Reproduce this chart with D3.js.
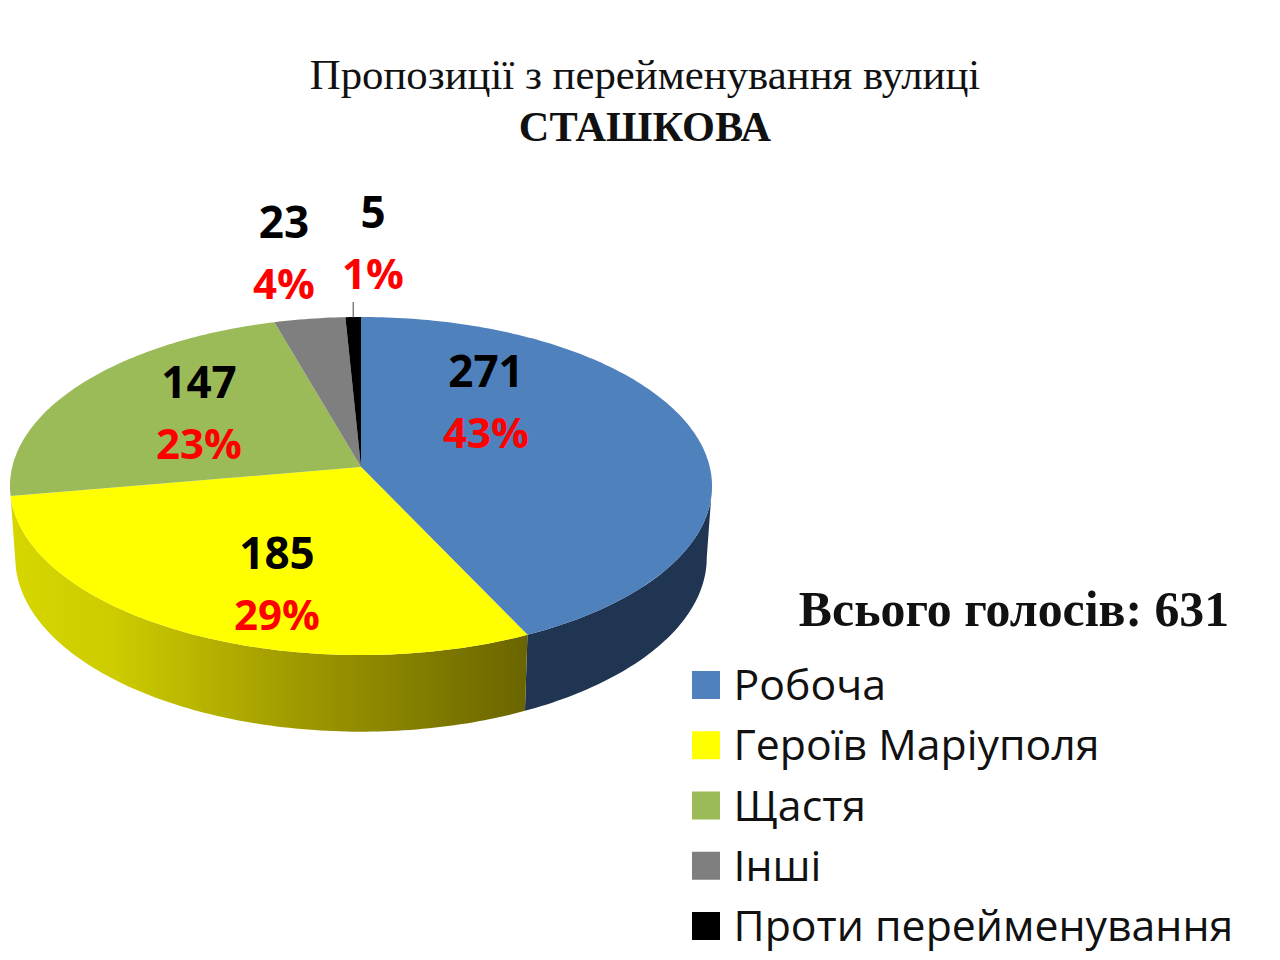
<!DOCTYPE html>
<html>
<head>
<meta charset="utf-8">
<title>Сташкова</title>
<script src="https://cdn.jsdelivr.net/npm/d3@7"></script>
<style>
  html, body { margin: 0; padding: 0; background: #fff; }
  svg { display: block; }
</style>
</head>
<body>
<svg id="chart" width="1280" height="960"></svg>
<script>
const categories = ["Робоча", "Героїв Маріуполя", "Щастя", "Інші", "Проти перейменування"]
const votes = [271, 185, 147, 23, 5]
const colors = ["#4f81bd", "#ffff00", "#9bbb59", "#7f7f7f", "#000000"]
const totalLabel = "Всього голосів: 631"

// where each value/percent pair sits (centre x, value baseline)
const labelAnchors = [[486, 387], [277, 569], [199, 398], [284, 238], [373, 228]]

const width = 1280
const height = 960
const svg = d3.select("#chart")

// perspective projection of the flat pie onto the page, v grows towards the viewer
const persp = 0.1124
function topFace(a) {
  const u = Math.sin(a), v = -Math.cos(a), w = 1 - persp * v
  return [361 + 348.8 * u / w, 467 + 166.9 * v / w]
}
function bottomFace(a) {
  const u = Math.sin(a), v = -Math.cos(a), w = 1 - persp * v
  return [361 + 0.985 * 348.8 * u / w, 538 + 1.03 * 166.9 * v / w]
}
function arcPoints(face, a0, a1) {
  const n = Math.max(2, Math.ceil(Math.abs(a1 - a0) * 60))
  return d3.range(n + 1).map(i => face(a0 + (a1 - a0) * i / n))
}

const pie = d3.pie().sort(null)
const slices = pie(votes)
const line = d3.line()
const total = d3.sum(votes)

const defs = svg.append("defs")
const yellowGrad = defs.append("linearGradient")
    .attr("id", "yellow-side")
    .attr("gradientUnits", "userSpaceOnUse")
    .attr("x1", 12).attr("x2", 525).attr("y1", 0).attr("y2", 0)
yellowGrad.selectAll("stop")
  .data([[0, "#d6d600"], [0.2, "#cccc00"], [0.55, "#a09a00"], [1, "#6b6500"]])
  .join("stop")
    .attr("offset", d => d[0])
    .attr("stop-color", d => d[1])

// side walls, only the front part of the rim can be seen
const rightEdge = Math.acos(-persp)
const leftEdge = 2 * Math.PI - rightEdge
const sideFill = ["#1f3552", "url(#yellow-side)"]
svg.append("g")
  .selectAll("path")
  .data(slices.slice(0, 2))
  .join("path")
    .attr("fill", (d, i) => sideFill[i])
    .attr("d", d => {
      const a0 = Math.max(d.startAngle, rightEdge)
      const a1 = Math.min(d.endAngle, leftEdge)
      return line(arcPoints(topFace, a0, a1).concat(arcPoints(bottomFace, a1, a0))) + "Z"
    })

// top face
svg.append("g")
  .selectAll("path")
  .data(slices)
  .join("path")
    .attr("fill", (d, i) => colors[i])
    .attr("d", d => line([[361, 467]].concat(arcPoints(topFace, d.startAngle, d.endAngle))) + "Z")

// leader line of the smallest slice
const last = slices[slices.length - 1]
const leaderTop = topFace((last.startAngle + last.endAngle) / 2)
svg.append("line")
    .attr("x1", leaderTop[0]).attr("x2", leaderTop[0])
    .attr("y1", leaderTop[1] + 1).attr("y2", leaderTop[1] - 15)
    .attr("stroke", "#404040")
    .attr("stroke-width", 1)

const labelFont = "'Open Sans', 'Noto Sans', sans-serif"
const labels = svg.append("g")
  .selectAll("g")
  .data(votes)
  .join("g")
    .attr("text-anchor", "middle")
    .attr("font-family", labelFont)
    .attr("font-weight", 700)
labels.append("text")
    .attr("x", (d, i) => labelAnchors[i][0])
    .attr("y", (d, i) => labelAnchors[i][1])
    .attr("font-size", 44)
    .attr("fill", "#000")
    .text(d => d)
labels.append("text")
    .attr("x", (d, i) => labelAnchors[i][0])
    .attr("y", (d, i) => labelAnchors[i][1] + 61)
    .attr("font-size", 42)
    .attr("fill", "#ff0000")
    .text(d => Math.round(d / total * 100) + "%")

// titles
const serif = "'Liberation Serif', 'Times New Roman', serif"
svg.append("text")
    .attr("x", 645).attr("y", 89)
    .attr("text-anchor", "middle")
    .attr("font-family", serif)
    .attr("font-size", 42.8)
    .attr("fill", "#111")
    .text("Пропозиції з перейменування вулиці")
svg.append("text")
    .attr("x", 645).attr("y", 141)
    .attr("text-anchor", "middle")
    .attr("font-family", serif)
    .attr("font-weight", 700)
    .attr("font-size", 42.3)
    .attr("fill", "#111")
    .text("СТАШКОВА")
svg.append("text")
    .attr("x", 1014).attr("y", 626)
    .attr("text-anchor", "middle")
    .attr("font-family", serif)
    .attr("font-weight", 700)
    .attr("font-size", 49.8)
    .attr("fill", "#111")
    .text(totalLabel)

// legend
const legendY = d3.scalePoint().domain(categories).range([685, 926])
const legend = svg.append("g")
  .selectAll("g")
  .data(categories)
  .join("g")
    .attr("transform", d => `translate(692,${legendY(d)})`)
legend.append("rect")
    .attr("y", -14)
    .attr("width", 28)
    .attr("height", 28)
    .attr("fill", (d, i) => colors[i])
legend.append("text")
    .attr("x", 41.5)
    .attr("y", 15)
    .attr("font-family", labelFont)
    .attr("font-size", 42.8)
    .attr("fill", "#111")
    .text(d => d)
</script>
</body>
</html>
